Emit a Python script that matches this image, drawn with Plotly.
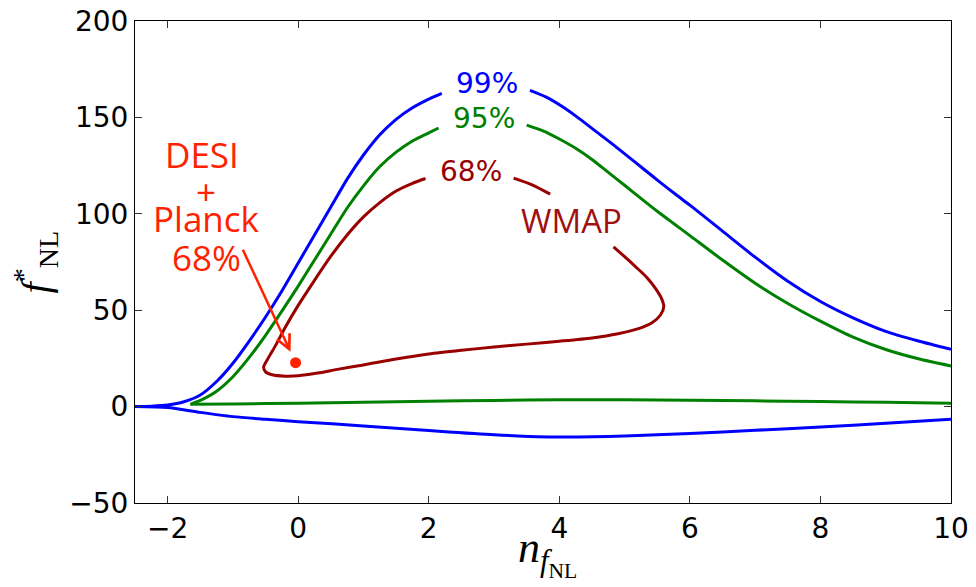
import plotly.graph_objects as go

# ---------------- data ----------------
# 99% contour (blue)
blue_upper_left_x = [-2.5, -2.25, -2.0, -1.75, -1.5, -1.25, -1.0, -0.75, -0.5, -0.25, 0.0,
                     0.25, 0.5, 0.75, 1.0, 1.25, 1.5, 1.75, 2.0, 2.2]
blue_upper_left_y = [0.0, 0.2, 0.8, 2.5, 6.0, 13.0, 22.5, 34.0, 46.5, 60.0, 74.5,
                     89.0, 103.5, 118.0, 130.5, 141.0, 149.0, 155.0, 159.5, 162.5]
blue_upper_right_x = [3.55, 3.8, 4.05, 4.3, 4.55, 4.8, 5.05, 5.3, 5.55, 5.8, 6.0,
                      6.5, 7.0, 7.5, 8.0, 8.5, 9.0, 9.5, 10.0]
blue_upper_right_y = [164.0, 160.5, 155.5, 149.5, 143.0, 136.5, 129.8, 123.0, 116.2, 109.6, 104.5,
                      91.0, 77.5, 65.0, 54.5, 46.0, 39.0, 34.0, 29.7]
blue_lower_x = [-2.5, -2.0, -1.5, -1.0, -0.5, 0.0, 1.0, 2.0, 3.0, 4.0, 5.0, 6.0, 7.0, 8.0, 9.0, 10.0]
blue_lower_y = [0.0, -0.5, -3.0, -5.2, -6.6, -7.8, -10.0, -12.4, -14.6, -15.8, -15.3, -13.9, -12.3, -10.6, -8.6, -6.5]

# 95% contour (green)
green_upper_left_x = [-1.65, -1.5, -1.25, -1.0, -0.75, -0.5, -0.25, 0.0, 0.25, 0.5, 0.75,
                      1.0, 1.25, 1.5, 1.75, 2.0, 2.15]
green_upper_left_y = [1.2, 3.2, 8.0, 15.5, 25.5, 37.0, 49.5, 62.5, 76.0, 89.5, 103.0,
                      114.5, 124.5, 132.0, 137.8, 142.0, 144.5]
green_upper_right_x = [3.5, 3.75, 4.0, 4.25, 4.5, 4.75, 5.0, 5.25, 5.5, 5.75, 6.0,
                       6.5, 7.0, 7.5, 8.0, 8.5, 9.0, 9.5, 10.0]
green_upper_right_y = [146.0, 143.0, 138.8, 134.0, 128.2, 121.5, 114.8, 108.0, 101.3, 95.0, 88.7,
                       76.0, 64.0, 53.5, 44.3, 36.0, 29.6, 24.8, 21.1]
green_lower_x = [-1.65, -1.0, 0.0, 1.0, 2.0, 3.0, 4.0, 5.0, 6.0, 7.0, 8.0, 9.0, 10.0]
green_lower_y = [1.2, 1.3, 1.8, 2.3, 2.8, 3.2, 3.5, 3.5, 3.3, 3.0, 2.6, 2.2, 1.8]

# 68% WMAP contour (dark red), the parts between the labels
red_main_x = [1.95, 1.75, 1.5, 1.25, 1.0, 0.75, 0.5, 0.25, 0.0, -0.2, -0.35, -0.47, -0.53,
              -0.5, -0.4, -0.2, 0.0, 0.3, 0.6, 1.0, 1.5, 2.0, 2.5, 3.0, 3.5, 4.0, 4.5,
              4.9, 5.2, 5.42, 5.55, 5.6, 5.56, 5.47, 5.34, 5.17, 5.0, 4.83]
red_main_y = [118.3, 115.8, 111.8, 105.8, 98.4, 89.0, 78.0, 65.5, 52.5, 41.0, 31.5, 24.5, 20.5,
              18.0, 16.5, 15.8, 16.0, 17.4, 19.3, 21.6, 24.7, 27.3, 29.2, 30.9, 32.4, 33.9, 35.6,
              37.8, 40.3, 43.5, 47.5, 51.8, 56.5, 61.5, 67.0, 72.5, 77.8, 82.9]
red_top_x = [3.3, 3.6, 3.86]
red_top_y = [118.5, 114.8, 110.2]

# DESI + Planck point
desi_x = [-0.04]
desi_y = [22.8]

x_ticks = [-2, 0, 2, 4, 6, 8, 10]
y_ticks = [-50, 0, 50, 100, 150, 200]

BLUE = "#0000ff"
GREEN = "#008000"
DRED = "#990000"
ORED = "#ff2200"

fig = go.Figure()

def add_line(x, y, color):
    fig.add_trace(go.Scatter(x=x, y=y, mode="lines",
                             line=dict(color=color, width=3, shape="spline", smoothing=0.7),
                             hoverinfo="skip", showlegend=False))

add_line(blue_lower_x, blue_lower_y, BLUE)
add_line(blue_upper_left_x, blue_upper_left_y, BLUE)
add_line(blue_upper_right_x, blue_upper_right_y, BLUE)
add_line(green_lower_x, green_lower_y, GREEN)
add_line(green_upper_left_x, green_upper_left_y, GREEN)
add_line(green_upper_right_x, green_upper_right_y, GREEN)
add_line(red_main_x, red_main_y, DRED)
add_line(red_top_x, red_top_y, DRED)

fig.add_trace(go.Scatter(x=desi_x, y=desi_y, mode="markers",
                         marker=dict(color=ORED, size=11, line=dict(width=0)),
                         hoverinfo="skip", showlegend=False))

label_font = "DejaVu Sans"
ann_font = "Open Sans"
annotations = [
    dict(x=2.894, y=167.6, text="99%", font=dict(family=label_font, size=28, color=BLUE)),
    dict(x=2.84, y=149.4, text="95%", font=dict(family=label_font, size=28, color=GREEN)),
    dict(x=2.654, y=122.1, text="68%", font=dict(family=label_font, size=28, color=DRED)),
    dict(x=4.18, y=96.7, text="WMAP", font=dict(family=ann_font, size=33, color="#a01010")),
    dict(x=-1.48, y=131.0, text="DESI", font=dict(family=ann_font, size=35, color=ORED)),
    dict(x=-1.42, y=111.5, text="+", font=dict(family=ann_font, size=35, color=ORED)),
    dict(x=-1.40, y=97.5, text="Planck", font=dict(family=ann_font, size=35, color=ORED)),
    dict(x=-1.40, y=77.5, text="68%", font=dict(family=ann_font, size=35, color=ORED)),
]
for a in annotations:
    a.update(xref="x", yref="y", showarrow=False, xanchor="center", yanchor="middle")

# arrow
annotations.append(dict(x=-0.118, y=28.5, ax=-0.858, ay=82.1, xref="x", yref="y",
                        axref="x", ayref="y", text="", showarrow=True,
                        arrowhead=5, arrowsize=1.1, arrowwidth=2.5, arrowcolor=ORED))

# axis titles
annotations.append(dict(x=-0.122, y=0.5, xref="paper", yref="paper",
                        text="<i>f</i><sup>*</sup><sub>NL</sub>", textangle=-90,
                        showarrow=False, xanchor="center", yanchor="middle",
                        font=dict(family="Liberation Serif", size=40, color="black")))
annotations.append(dict(x=0.505, y=-0.103, xref="paper", yref="paper",
                        text="<i>n</i><sub><i>f</i><sub>NL</sub></sub>",
                        showarrow=False, xanchor="center", yanchor="middle",
                        font=dict(family="Liberation Serif", size=44, color="black")))

axis_common = dict(showline=True, mirror="ticks", linecolor="black", linewidth=1,
                   ticks="inside", ticklen=7, tickwidth=1, tickcolor="#333333",
                   showgrid=False, zeroline=False, automargin=False,
                   tickfont=dict(family="DejaVu Sans", size=28, color="black"))

fig.update_layout(
    width=976, height=587,
    margin=dict(l=135, r=25, t=21, b=84, autoexpand=False),
    paper_bgcolor="white", plot_bgcolor="white",
    xaxis=dict(range=[-2.5, 10], tickvals=x_ticks, **axis_common),
    yaxis=dict(range=[-50, 200], tickvals=y_ticks, **axis_common),
    annotations=annotations,
    showlegend=False,
)

fig.write_html("out.html", config={"displayModeBar": False},
               post_script="document.body.style.margin='0';")
